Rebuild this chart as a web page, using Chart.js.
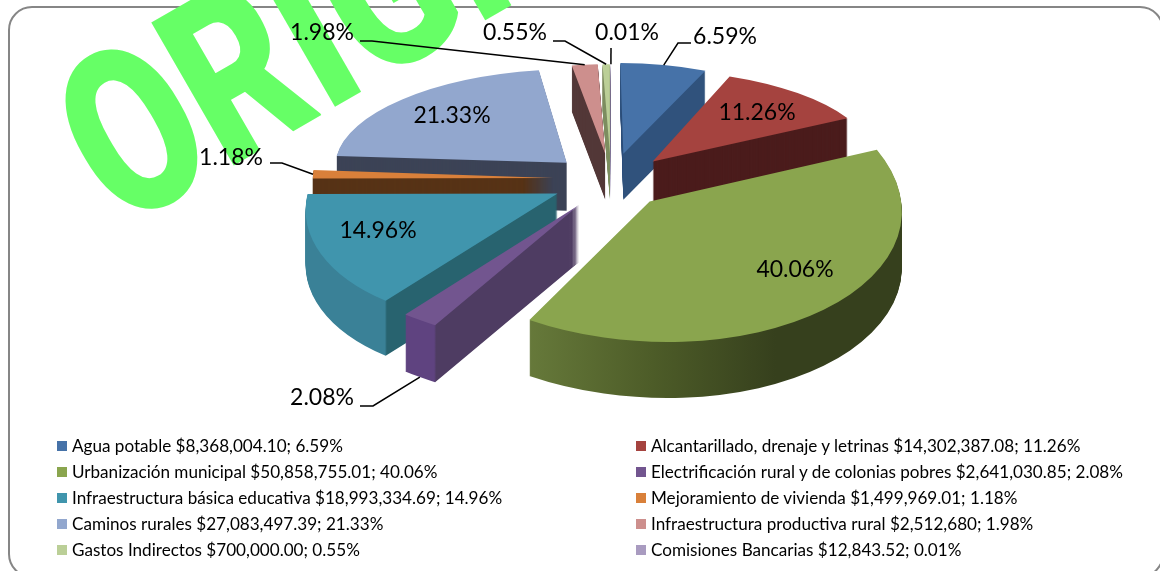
<!DOCTYPE html>
<html>
<head>
<meta charset="utf-8">
<script src="https://cdn.jsdelivr.net/npm/chart.js@4"></script>
<style>
  html, body { margin: 0; padding: 0; background: #fff; overflow: hidden; }
  #wrap { position: relative; width: 1160px; height: 571px; overflow: hidden; }
  #frame { position: absolute; left: 8px; top: 6px; width: 1156px; height: 572px; box-sizing: border-box;
           border: 2px solid #868686; border-radius: 24px; }
  canvas { position: absolute; left: 0; top: 0; }
  #legend { position: absolute; left: 0; top: 0; font: 17.1px Lato, sans-serif; color: #000; }
  .item { position: absolute; white-space: nowrap; line-height: 20px; }
  .item i { position: absolute; left: -15px; top: 5px; width: 10px; height: 10px; }
</style>
</head>
<body>
<div id="wrap">
  <div id="frame"></div>
  <canvas id="chart" width="1160" height="571"></canvas>
  <div id="legend"></div>
</div>
<script>
// datos
const categories = ['Agua potable', 'Alcantarillado, drenaje y letrinas', 'Urbanización municipal',
  'Electrificación rural y de colonias pobres', 'Infraestructura básica educativa', 'Mejoramiento de vivienda',
  'Caminos rurales', 'Infraestructura productiva rural', 'Gastos Indirectos', 'Comisiones Bancarias'];
const amounts = [8368004.10, 14302387.08, 50858755.01, 2641030.85, 18993334.69, 1499969.01,
  27083497.39, 2512680, 700000.00, 12843.52];
const amountLabels = ['$8,368,004.10', '$14,302,387.08', '$50,858,755.01', '$2,641,030.85', '$18,993,334.69',
  '$1,499,969.01', '$27,083,497.39', '$2,512,680', '$700,000.00', '$12,843.52'];
const percentLabels = ['6.59%', '11.26%', '40.06%', '2.08%', '14.96%', '1.18%', '21.33%', '1.98%', '0.55%', '0.01%'];

// estilos
const faceColors = ['#4672a8', '#a5433f', '#8aa54e', '#72558f', '#4095ad', '#d9803a', '#92a7ce', '#cd8f8d', '#bbcf97', '#a99bc0'];
const wallColors = [['#30527c'], ['#4b1c1c'], ['#66793a', '#4d5c28', '#36401d'], ['#5f4380', '#4e3c62'],
  ['#3a8197', '#28636f'], ['#573316'], ['#3c4356'], ['#533838'], ['#7f8f62'], ['#6f6580']];
const explode = [60, 60, 56, 60, 60, 58, 60, 60, 60, 60];
// correccion de perspectiva por rebanada: [escala x, escala y, sesgo x, sesgo y]
const perspective = [[1, 0.98, 3, 0], [1.015, 0.925, 14, -4], [0.933, 1.064, 0, 10], [1.012, 1.055, -13, 9],
  [0.958, 1.056, -31, 0], [0.985, 1, 0, 0], [1.045, 0.94, -9, 0], [1, 0.97, 0, 0], [1, 0.97, 0, 0], [1, 0.97, 0, 0]];
const drawOrder = [6, 7, 8, 9, 0, 1, 5, 4, 3, 2];

// [centro x, centro y del texto]
const labelPos = [[725, 37], [757, 113], [795, 270], [322, 398], [378, 231], [231, 158], [452, 116], [322, 33], [515, 33], [627, 33]];
// inicio y codo de la linea guia, y si termina abajo de la pared
const leaders = {
  0: { from: [691, 43], elbow: [678, 43], low: false },
  3: { from: [360, 406], elbow: [373, 406], low: true },
  5: { from: [270, 163], elbow: [282, 163], low: false },
  7: { from: [360, 41], elbow: [372, 41], low: false },
  8: { from: [553, 41], elbow: [565, 41], low: false },
  9: { from: [611, 48], elbow: [611, 48], low: false }
};

const center = { x: 611, y: 179 };

function midAngle(arc) {
  return (arc.startAngle + arc.endAngle) / 2 + Math.PI / 2;
}

// cada rebanada se aplana y crece segun lo cerca que queda del frente
function sliceGeom(arc, i) {
  const m = midAngle(arc);
  const c = Math.cos(m);
  const p = perspective[i];
  const rx = (245 - 35 * c) * p[0];
  const ry = (115 - 23 * c) * p[1];
  const e = explode[i];
  return {
    rx, ry, skewX: p[2], skewY: p[3], depth: Math.round(52 - 6 * c),
    tipX: center.x + Math.sin(m) * e,
    tipY: center.y - c * e * ry / rx
  };
}

function applySlice(ctx, arc, g, drop) {
  const r = arc.outerRadius;
  ctx.translate(g.tipX, g.tipY + drop);
  ctx.transform(g.rx / r, g.skewY / r, g.skewX / r, g.ry / r, 0, 0);
  ctx.translate(-arc.x, -arc.y);
}

function wallFill(ctx, arc, i) {
  const cols = wallColors[i];
  if (cols.length === 1) return cols[0];
  const r = arc.outerRadius;
  if (cols.length === 2) {
    // pared curva hasta la esquina, pared recta despues
    const corner = arc.x + r * Math.cos(arc.startAngle);
    const g = ctx.createLinearGradient(corner - 1, 0, corner + 1, 0);
    g.addColorStop(0, cols[0]);
    g.addColorStop(1, cols[1]);
    return g;
  }
  const g = ctx.createLinearGradient(arc.x + r * Math.cos(arc.endAngle), 0, arc.x + r * 0.5, 0);
  cols.forEach((c, k) => g.addColorStop(k / (cols.length - 1), c));
  return g;
}

function drawSlice(ctx, arc, i) {
  const g = sliceGeom(arc, i);
  const faceOptions = arc.options;
  for (let d = g.depth; d > 0; d--) {
    ctx.save();
    applySlice(ctx, arc, g, d);
    arc.options = Object.assign({}, faceOptions, { backgroundColor: wallFill(ctx, arc, i) });
    arc.draw(ctx);
    ctx.restore();
  }
  arc.options = faceOptions;
  ctx.save();
  applySlice(ctx, arc, g, 0);
  arc.draw(ctx);
  ctx.restore();
}

// punto del borde exterior de la rebanada, en pantalla
function rimPoint(arc, i, low) {
  const g = sliceGeom(arc, i);
  const m = midAngle(arc);
  const sin = Math.sin(m), cos = Math.cos(m);
  return [g.tipX + sin * g.rx - cos * g.skewX, g.tipY - cos * g.ry + sin * g.skewY + (low ? g.depth : 0)];
}

const pie3d = {
  id: 'pie3d',
  beforeDraw(chart) {
    // marca de agua
    const ctx = chart.ctx;
    ctx.save();
    ctx.translate(120, 231);
    ctx.rotate(-30 * Math.PI / 180);
    ctx.scale(0.76, 1);
    ctx.font = '900 232px Roboto';
    ctx.fillStyle = '#66ff66';
    ctx.fillText('ORIGINAL', 0, 0);
    ctx.restore();
  },
  beforeDatasetsDraw(chart) {
    const ctx = chart.ctx;
    const arcs = chart.getDatasetMeta(0).data;
    drawOrder.forEach(i => drawSlice(ctx, arcs[i], i));

    ctx.save();
    ctx.strokeStyle = '#000';
    ctx.lineWidth = 1.5;
    Object.keys(leaders).forEach(k => {
      const l = leaders[k];
      const end = rimPoint(arcs[k], +k, l.low);
      ctx.beginPath();
      ctx.moveTo(l.from[0], l.from[1]);
      ctx.lineTo(l.elbow[0], l.elbow[1]);
      ctx.lineTo(end[0], end[1]);
      ctx.stroke();
    });
    ctx.fillStyle = '#000';
    ctx.font = '23px Lato';
    ctx.textAlign = 'center';
    ctx.textBaseline = 'middle';
    percentLabels.forEach((t, i) => ctx.fillText(t, labelPos[i][0], labelPos[i][1]));
    ctx.restore();
    return false;
  }
};

new Chart(document.getElementById('chart'), {
  type: 'pie',
  data: {
    labels: categories,
    datasets: [{ data: amounts, backgroundColor: faceColors, borderWidth: 0 }]
  },
  options: {
    responsive: false,
    animation: false,
    layout: { padding: 0 },
    plugins: { legend: { display: false }, tooltip: { enabled: false } }
  },
  plugins: [pie3d]
});

// leyenda en dos columnas
const rowY = [436, 462, 488, 514, 540];
const legend = document.getElementById('legend');
categories.forEach((name, i) => {
  const item = document.createElement('div');
  item.className = 'item';
  item.style.left = (i % 2 ? 651 : 72) + 'px';
  item.style.top = rowY[Math.floor(i / 2)] + 'px';
  item.innerHTML = '<i style="background:' + faceColors[i] + '"></i>' + name + ' ' + amountLabels[i] + '; ' + percentLabels[i];
  legend.appendChild(item);
});
</script>
</body>
</html>
